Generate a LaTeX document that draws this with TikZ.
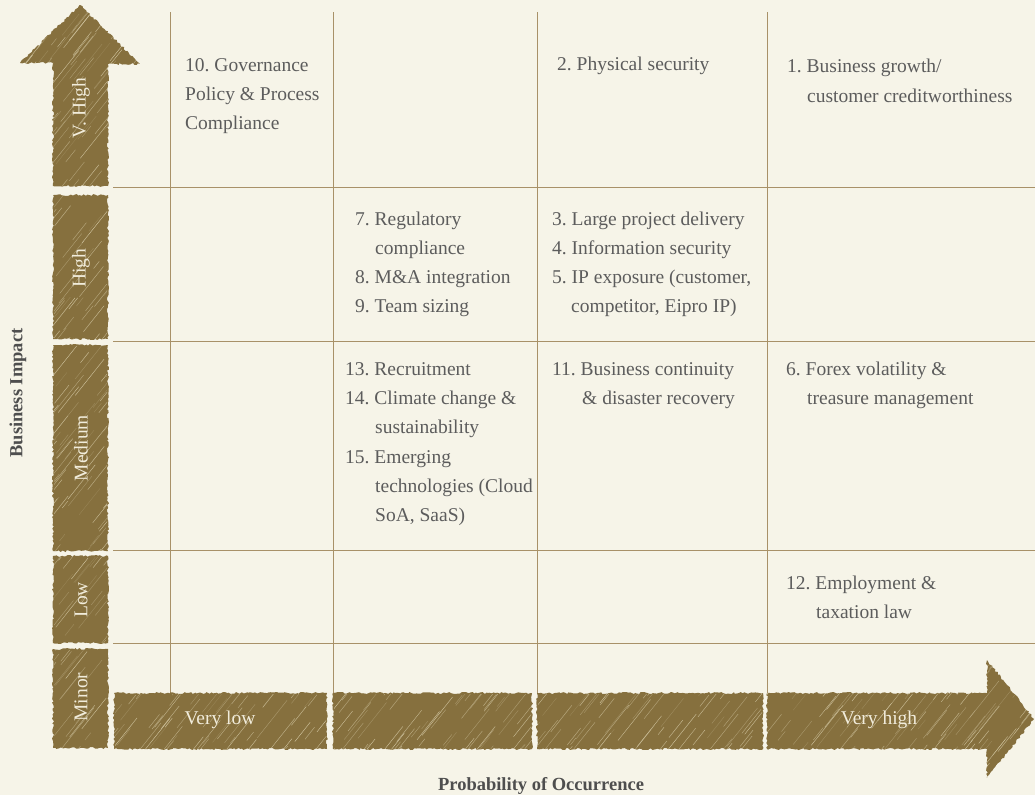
\documentclass[tikz,border=0pt]{standalone}
\usepackage{fontspec}
\setmainfont{Liberation Serif}
\usetikzlibrary{decorations.pathmorphing}
\definecolor{bg}{HTML}{F6F4E8}
\definecolor{blockc}{HTML}{86703E}
\definecolor{hatchc}{HTML}{E6DDBC}
\definecolor{gridc}{HTML}{A89168}
\definecolor{txtc}{HTML}{5C5C5C}
\definecolor{lblc}{HTML}{F1ECDB}
\definecolor{axc}{HTML}{4E4E4E}
\frenchspacing
\newcommand\myhatch[4]{%
  \pgfmathtruncatemacro\nl{((#3-#1)/15)*((#4-#2)/10)}%
  \foreach \k in {1,...,\nl}{%
    \pgfmathsetmacro\hx{#1-40+rnd*(#3-#1+40)}%
    \pgfmathsetmacro\hy{#2+rnd*(#4-#2+40)}%
    \pgfmathsetmacro\hl{8+rnd*45}%
    \pgfmathsetmacro\ho{0.15+rnd*0.6}%
    \draw[hatchc, line width=0.45pt, opacity=\ho] (\hx,\hy) -- ++(0.62*\hl,-0.78*\hl);
  }}
\begin{document}
\begin{tikzpicture}[x=1pt,y=-1pt,
  blk/.style={fill=blockc, decorate, decoration={random steps,segment length=2pt,amplitude=1pt}},
  itm/.style={anchor=base west, inner sep=0pt, text=txtc, font=\fontsize{19.5}{24}\selectfont},
  lbl/.style={inner sep=0pt, text=lblc, font=\fontsize{19.5}{23}\selectfont},
  vlbl/.style={lbl, rotate=90},
  ax/.style={inner sep=0pt, text=axc, font=\bfseries\fontsize{18.5}{22}\selectfont},
  gridl/.style={draw=gridc, line width=1pt}
]
\pgfmathsetseed{7}
\fill[bg] (0,0) rectangle (1035,795);
\useasboundingbox (0,0) rectangle (1035,795);

% grid
\foreach \gx in {170,333,537,767} \draw[gridl] (\gx,12) -- (\gx,693);
\foreach \gy in {187,341,550,643} \draw[gridl] (113,\gy) -- (1035,\gy);

% vertical axis blocks
\fill[blk] (53,186) -- (53,63) -- (20,63) -- (80,5) -- (140,64) -- (108,64) -- (108,186) -- cycle;
\begin{scope}\clip (53,186) -- (53,63) -- (20,63) -- (80,5) -- (140,64) -- (108,64) -- (108,186) -- cycle; \myhatch{20}{5}{140}{186}\end{scope}
\fill[blk] (53,195) rectangle (108,339);
\begin{scope}\clip (54,196) rectangle (107,338); \myhatch{53}{195}{108}{339}\end{scope}
\fill[blk] (53,345) rectangle (108,551);
\begin{scope}\clip (54,346) rectangle (107,550); \myhatch{53}{345}{108}{551}\end{scope}
\fill[blk] (53,556) rectangle (108,643);
\begin{scope}\clip (54,557) rectangle (107,642); \myhatch{53}{556}{108}{643}\end{scope}
\fill[blk] (53,649) rectangle (108,748);
\begin{scope}\clip (54,650) rectangle (107,747); \myhatch{53}{649}{108}{748}\end{scope}

% horizontal axis blocks
\fill[blk] (114,693) rectangle (327,749);
\begin{scope}\clip (115,694) rectangle (326,748); \myhatch{114}{693}{327}{749}\end{scope}
\fill[blk] (333,693) rectangle (532,749);
\begin{scope}\clip (334,694) rectangle (531,748); \myhatch{333}{693}{532}{749}\end{scope}
\fill[blk] (537,693) rectangle (763,749);
\begin{scope}\clip (538,694) rectangle (762,748); \myhatch{537}{693}{763}{749}\end{scope}
\fill[blk] (767,693) -- (987,693) -- (987,660) -- (1034,719) -- (987,778) -- (987,749) -- (767,749) -- cycle;
\begin{scope}\clip (767,693) -- (987,693) -- (987,660) -- (1034,719) -- (987,778) -- (987,749) -- (767,749) -- cycle; \myhatch{767}{660}{1035}{778}\end{scope}

% block labels
\node[vlbl] (lvh) at (81,108) {V. High};
\node[vlbl] (lh) at (81,268) {High};
\node[vlbl] (lm) at (81,448) {Medium};
\node[vlbl] (ll) at (81,600) {Low};
\node[vlbl] (lmi) at (81,697) {Minor};
\node[lbl] (pvl) at (220,720) {Very low};
\node[lbl] (pvh) at (879,720) {Very high};

% axis titles
\node[ax, rotate=90] (yax) at (18,393) {Business Impact};
\node[ax, anchor=base] (xax) at (541,790) {Probability of Occurrence};

% row V. High
\node[itm] (t10a) at (185,71) {10. Governance};
\node[itm] (t10b) at (185,100) {Policy \& Process};
\node[itm] (t10c) at (185,129) {Compliance};
\node[itm] (t2) at (557,70) {2. Physical security};
\node[itm] (t1a) at (787,72) {1. Business growth/};
\node[itm] (t1b) at (807,102) {customer creditworthiness};

% row High
\node[itm] (t7a) at (355,225) {7. Regulatory};
\node[itm] (t7b) at (375,254) {compliance};
\node[itm] (t8) at (355,283) {8. M\&A integration};
\node[itm] (t9) at (355,312) {9. Team sizing};
\node[itm] (t3) at (552,225) {3. Large project delivery};
\node[itm] (t4) at (552,254) {4. Information security};
\node[itm] (t5a) at (552,283) {5. IP exposure (customer,};
\node[itm] (t5b) at (571,312) {competitor, Eipro IP)};

% row Medium
\node[itm] (t13) at (345,375) {13. Recruitment};
\node[itm] (t14a) at (345,404) {14. Climate change \&};
\node[itm] (t14b) at (375,433) {sustainability};
\node[itm] (t15a) at (345,463) {15. Emerging};
\node[itm] (t15b) at (375,492) {technologies (Cloud};
\node[itm] (t15c) at (375,521) {SoA, SaaS)};
\node[itm] (t11a) at (552,375) {11. Business continuity};
\node[itm] (t11b) at (582,404) {\& disaster recovery};
\node[itm] (t6a) at (786,375) {6. Forex volatility \&};
\node[itm] (t6b) at (807,404) {treasure management};

% row Low
\node[itm] (t12a) at (786,589) {12. Employment \&};
\node[itm] (t12b) at (816,618) {taxation law};
\end{tikzpicture}
\end{document}
